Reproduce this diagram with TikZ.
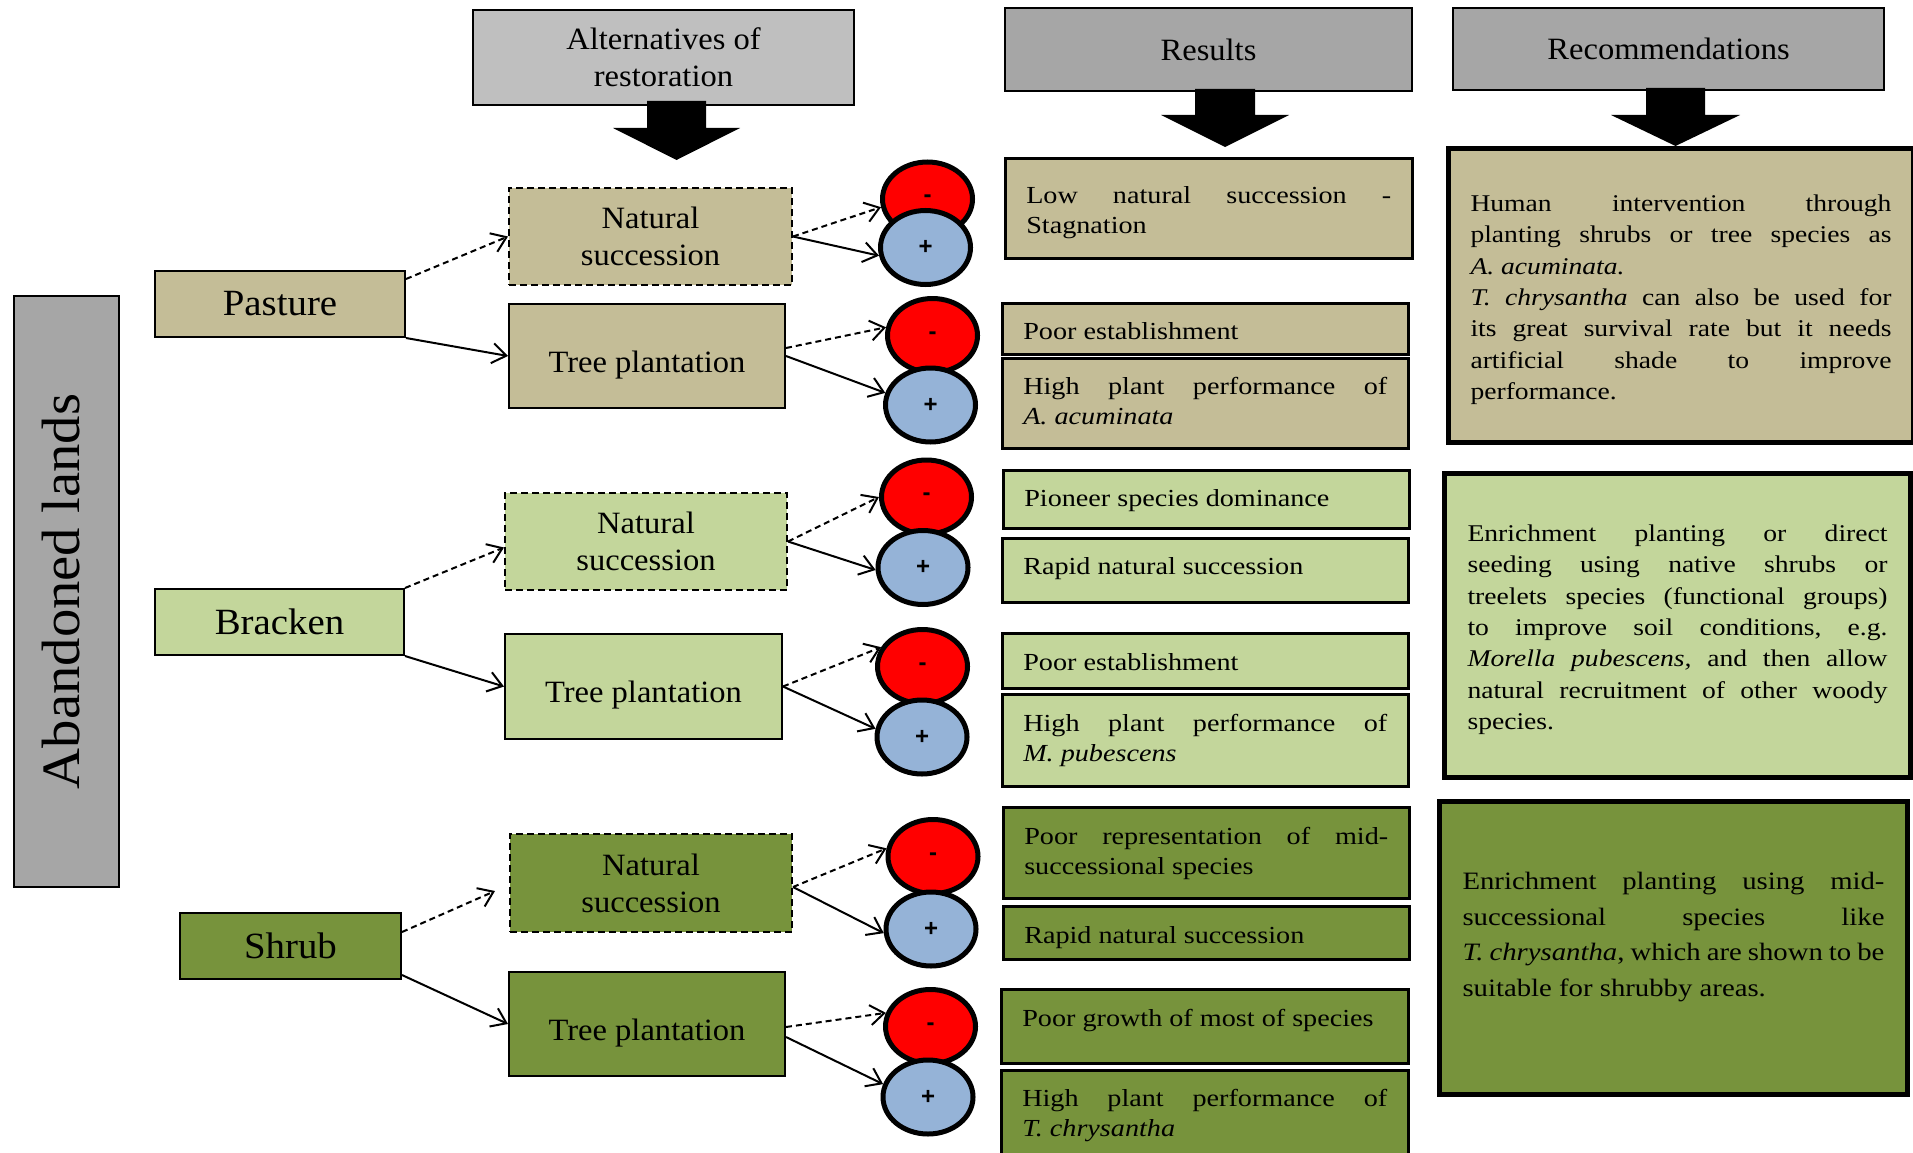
\documentclass[tikz,border=0pt]{standalone}
\usepackage{fontspec}
\setmainfont[FakeStretch=1.05]{Liberation Serif}
\newfontfamily\bodyf[FakeStretch=1.15]{Liberation Serif}
\newfontfamily\sgnf{Liberation Sans}
\usetikzlibrary{shapes.geometric,arrows.meta}
\frenchspacing
\hbadness=10000 \vbadness=10000 \hfuzz=4pt
\definecolor{pastc}{HTML}{C4BD97}
\definecolor{brakc}{HTML}{C3D69B}
\definecolor{shrc}{HTML}{77933C}
\definecolor{hdrlight}{HTML}{BFBFBF}
\definecolor{hdrdark}{HTML}{A6A6A6}
\definecolor{redc}{HTML}{FF0000}
\definecolor{bluec}{HTML}{95B3D7}
\newcommand\bxnode[7]{%
  \pgfmathsetmacro\bw{#4-#2}\pgfmathsetmacro\bh{#5-#3}%
  \node[#6, minimum width=\bw pt, minimum height=\bh pt] (#1) at (#2,#3) {#7};}
\newcommand\tbox[9]{%
  \pgfmathsetmacro\bw{#4-#2}\pgfmathsetmacro\bh{#5-#3}%
  \pgfmathsetmacro\tw{#4-#2-2*#8}\pgfmathsetmacro\td{#5-#3-#7}%
  \node[textbox, #6, inner xsep=#8pt, minimum width=\bw pt, minimum height=\bh pt,
        text width=\tw pt, text height=#7pt, text depth=\td pt] (#1) at (#2,#3) {#9};}
\tikzset{
  hdrbox/.style={draw=black, line width=2pt, anchor=north west, inner sep=0pt, align=center,
                 font=\fontsize{31}{37}\selectfont},
  landbox/.style={draw=black, line width=2pt, anchor=north west, inner sep=0pt,
                  font=\fontsize{37}{44}\selectfont},
  altbox/.style={draw=black, line width=2pt, anchor=north west, inner sep=0pt, align=center,
                 font=\fontsize{31}{37}\selectfont},
  dashbox/.style={dash pattern=on 7pt off 4pt},
  tpbox/.style={text height=39pt, text depth=7pt},
  textbox/.style={draw=black, anchor=north west, inner ysep=0pt, align=justify},
  resbox/.style={line width=2.5pt, font=\bodyf\fontsize{24.5}{30}\selectfont},
  recbox/.style={line width=5pt, font=\bodyf\fontsize{24}{31.3}\selectfont},
  signbox/.style={ellipse, draw=black, line width=5pt, minimum width=90pt, minimum height=74pt,
                  inner sep=0pt, font=\sgnf\bfseries\fontsize{24}{24}\selectfont},
  conn/.style={line width=2pt, -{Straight Barb[length=14pt,width=20pt]}},
  dconn/.style={conn, dash pattern=on 6pt off 4pt}
}
\begin{document}
\begin{tikzpicture}[x=1pt,y=-1pt]
\useasboundingbox (0,0) rectangle (1913,1153);
\clip (0,0) rectangle (1913,1153);
\fill[white] (0,0) rectangle (1913,1153);

% headers
\bxnode{alt}{472}{9}{853}{104}{hdrbox, fill=hdrlight}{Alternatives of\\restoration}
\bxnode{res}{1004}{7}{1411}{90}{hdrbox, fill=hdrdark}{Results}
\bxnode{rec}{1452}{7}{1883}{89}{hdrbox, fill=hdrdark}{Recommendations}

% block arrows
\fill (647,101) -- (706,101) -- (706,128) -- (740,128) -- (676.5,160) -- (613,128) -- (647,128) -- cycle;
\fill (1195,89) -- (1255,89) -- (1255,115) -- (1289,115) -- (1225,147) -- (1161,115) -- (1195,115) -- cycle;
\fill (1646,88) -- (1705,88) -- (1705,115) -- (1740,115) -- (1675.5,146) -- (1611,115) -- (1646,115) -- cycle;

% abandoned lands
\node[draw=black, line width=2pt, fill=hdrdark, rotate=90, minimum width=591pt, minimum height=105pt,
      inner sep=0pt, text depth=12pt, font=\fontsize{54}{60}\selectfont] (aband) at (66.5,591.5) {Abandoned lands};

% land types and alternatives
\bxnode{pas}{154}{270}{404}{336}{landbox, fill=pastc}{Pasture}
\bxnode{pns}{508}{187}{791}{284}{altbox, dashbox, fill=pastc}{Natural\\succession}
\bxnode{ptp}{508}{303}{784}{407}{altbox, tpbox, fill=pastc}{Tree plantation}

\bxnode{brk}{154}{588}{403}{654}{landbox, fill=brakc}{Bracken}
\bxnode{bns}{504}{492}{786}{589}{altbox, dashbox, fill=brakc}{Natural\\succession}
\bxnode{btp}{504}{633}{781}{738}{altbox, tpbox, fill=brakc}{Tree plantation}

\bxnode{shr}{179}{912}{400}{978}{landbox, fill=shrc}{Shrub}
\bxnode{sns}{509}{833}{791}{931}{altbox, dashbox, fill=shrc}{Natural\\succession}
\bxnode{stp}{508}{971}{784}{1075}{altbox, tpbox, fill=shrc}{Tree plantation}

% outcome signs
\node[signbox, fill=redc] (pr1) at (927.5,199) {-};
\node[signbox, fill=bluec] (pb1) at (925.5,247.5) {+};
\node[signbox, fill=redc] (pr2) at (932.5,335.5) {-};
\node[signbox, fill=bluec] (pb2) at (930.5,405) {+};
\node[signbox, fill=redc] (br1) at (926.5,497) {-};
\node[signbox, fill=bluec] (bb1) at (923,567.5) {+};
\node[signbox, fill=redc] (br2) at (922.5,666.5) {-};
\node[signbox, fill=bluec] (bb2) at (922,737) {+};
\node[signbox, fill=redc] (sr1) at (933,856.5) {-};
\node[signbox, fill=bluec] (sb1) at (931,929) {+};
\node[signbox, fill=redc] (sr2) at (930.5,1026.5) {-};
\node[signbox, fill=bluec] (sb2) at (928,1097) {+};

% connectors
\draw[dconn] ([yshift=-9pt]pas.north east) -- (pns.west);
\draw[conn] (pas.south east) -- (ptp.west);
\draw[dconn] (pns.east) -- (pr1.190);
\draw[conn] (pns.east) -- (pb1.190);
\draw[dconn] ([yshift=8pt]ptp.east) -- (pr2.170);
\draw[conn] (ptp.east) -- (pb2.165);

\draw[dconn] (brk.north east) -- ([yshift=-6pt]bns.west);
\draw[conn] (brk.south east) -- (btp.west);
\draw[dconn] (bns.east) -- (br1.west);
\draw[conn] (bns.east) -- (bb1.183);
\draw[dconn] (btp.east) -- (br2.155);
\draw[conn] (btp.east) -- (bb2.170);

\draw[dconn] ([yshift=-20pt]shr.north east) -- ([shift={(-14pt,-8pt)}]sns.west);
\draw[conn] ([yshift=5pt]shr.south east) -- (stp.west);
\draw[dconn] ([yshift=-4pt]sns.east) -- (sr1.170);
\draw[conn] ([yshift=-4pt]sns.east) -- (sb1.185);
\draw[dconn] ([yshift=-3pt]stp.east) -- (sr2.163);
\draw[conn] ([yshift=-13pt]stp.east) -- (sb2.164);

% results
\tbox{r1}{1004}{157}{1411}{257}{resbox, fill=pastc}{45}{21}{Low natural succession -\linebreak Stagnation}
\tbox{r2}{1001}{302}{1407}{353}{resbox, fill=pastc}{36}{21}{Poor establishment}
\tbox{r3}{1001}{357}{1407}{447}{resbox, fill=pastc}{36}{21}{High plant performance of\linebreak \textit{A. acuminata}}
\tbox{r4}{1002}{469}{1408}{527}{resbox, fill=brakc}{36}{21}{Pioneer species dominance}
\tbox{r5}{1001}{537}{1407}{601}{resbox, fill=brakc}{36}{21}{Rapid natural succession}
\tbox{r6}{1001}{632}{1407}{687}{resbox, fill=brakc}{37}{21}{Poor establishment}
\tbox{r7}{1001}{693}{1407}{785}{resbox, fill=brakc}{37}{21}{High plant performance of\linebreak \textit{M. pubescens}}
\tbox{r8}{1002}{806}{1408}{897}{resbox, fill=shrc}{37}{21}{Poor representation of mid-\linebreak successional species}
\tbox{r9}{1002}{905}{1408}{958}{resbox, fill=shrc}{37}{21}{Rapid natural succession}
\tbox{r10}{1000}{988}{1407}{1062}{resbox, fill=shrc}{37}{21}{Poor growth of most of species}
\tbox{r11}{1000}{1069}{1407}{1165}{resbox, fill=shrc}{36}{21}{High plant performance of\linebreak \textit{T. chrysantha}}

% recommendations
\tbox{c1}{1446}{146}{1911}{440}{recbox, fill=pastc}{63}{22}{Human intervention through\linebreak planting shrubs or tree species as\linebreak \textit{A. acuminata.}\par \textit{T. chrysantha} can also be used for\linebreak its great survival rate but it needs\linebreak artificial shade to improve\linebreak performance.}
\tbox{c2}{1442}{471}{1908}{775}{recbox, fill=brakc}{68}{23}{Enrichment planting or direct\linebreak seeding using native shrubs or\linebreak treelets species (functional groups)\linebreak to improve soil conditions, e.g.\linebreak \textit{Morella pubescens,} and then allow\linebreak natural recruitment of other woody\linebreak species.}
\tbox{c3}{1437}{799}{1905}{1092}{recbox, fill=shrc, font=\bodyf\fontsize{25}{35.7}\selectfont}{88}{23}{Enrichment planting using mid-\linebreak successional species like\linebreak \textit{T. chrysantha}, which are shown to be\linebreak suitable for shrubby areas.}
\end{tikzpicture}
\end{document}
